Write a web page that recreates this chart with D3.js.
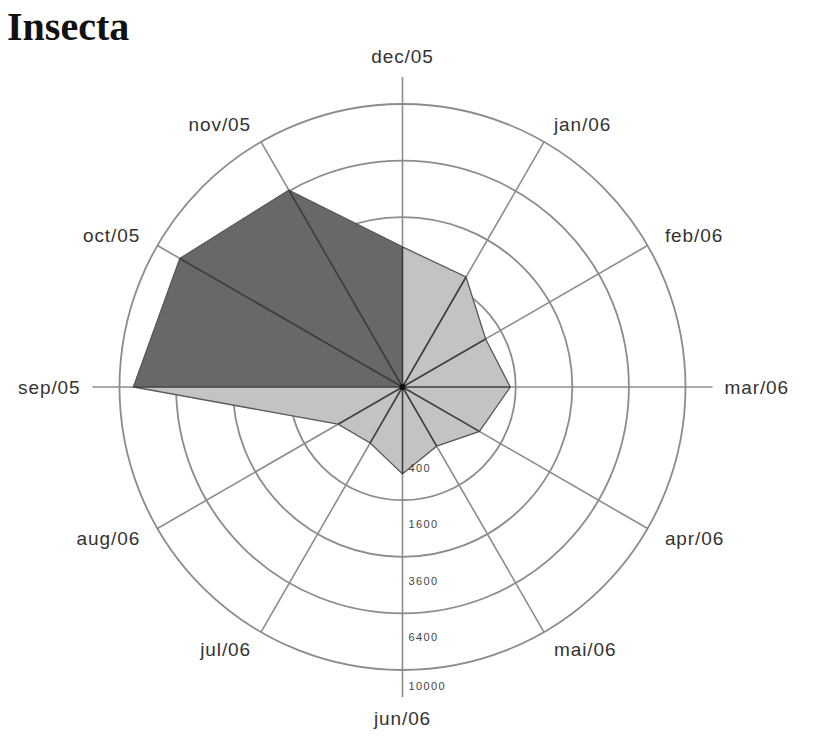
<!DOCTYPE html>
<html>
<head>
<meta charset="utf-8">
<script src="https://cdn.jsdelivr.net/npm/d3@7"></script>
<style>
  body { margin: 0; background: #fff; }
</style>
</head>
<body>
<div id="chart"></div>
<script>
// months in chronological order, sep/05 sits on the left axis
const months = ["sep/05", "oct/05", "nov/05", "dec/05", "jan/06", "feb/06",
                "mar/06", "apr/06", "mai/06", "jun/06", "jul/06", "aug/06"];
const counts = [9040, 8250, 6450, 2450, 2015, 1150, 1450, 985, 583, 945, 521, 691];
// segments (from this month to the next) drawn in the dark shade
const darkMonths = ["sep/05", "oct/05", "nov/05"];
const ringTicks = [400, 1600, 3600, 6400, 10000];

const width = 816, height = 739;
const cx = 402.5, cy = 387;
const rOuter = 283, axisLong = 310;

const svg = d3.select("#chart")
  .append("svg")
  .attr("width", width)
  .attr("height", height);

// title
svg.append("text")
  .attr("x", 7)
  .attr("y", 40)
  .style("font-family", "'Liberation Serif', 'Times New Roman', serif")
  .style("font-weight", "bold")
  .style("font-size", "40px")
  .style("fill", "#111")
  .text("Insecta");

const g = svg.append("g").attr("transform", `translate(${cx},${cy})`);

// radius is square-root scaled so the rings come out evenly spaced
const r = d3.scaleSqrt().domain([0, 10000]).range([0, rOuter]);

// angle per month, 0 = up, clockwise; sep/05 starts at the left
const step = 2 * Math.PI / months.length;
const ang = m => -Math.PI / 2 + months.indexOf(m) * step;

const px = (a, rad) => rad * Math.sin(a);
const py = (a, rad) => -rad * Math.cos(a);

// rings
g.selectAll(".ring")
  .data(ringTicks)
  .enter()
  .append("circle")
  .attr("class", "ring")
  .attr("r", d => r(d))
  .attr("fill", "none")
  .attr("stroke", "#8c8c8c")
  .attr("stroke-width", 1.8);

// axis lines; the four main ones run further out
const isCardinal = m => months.indexOf(m) % 3 === 0;
g.selectAll(".axis")
  .data(months)
  .enter()
  .append("line")
  .attr("class", "axis")
  .attr("x1", 0).attr("y1", 0)
  .attr("x2", d => px(ang(d), isCardinal(d) ? axisLong : rOuter))
  .attr("y2", d => py(ang(d), isCardinal(d) ? axisLong : rOuter))
  .attr("stroke", "#8c8c8c")
  .attr("stroke-width", 1.6);

// data polygon, drawn as one wedge per month so each can take its own shade
const segs = months.map((m, i) => {
  const j = (i + 1) % months.length;
  return { from: m, to: months[j], v0: counts[i], v1: counts[j] };
});

g.selectAll(".seg")
  .data(segs)
  .enter()
  .append("path")
  .attr("class", "seg")
  .attr("d", d => {
    const a0 = ang(d.from), a1 = ang(d.to);
    return `M0,0L${px(a0, r(d.v0))},${py(a0, r(d.v0))}L${px(a1, r(d.v1))},${py(a1, r(d.v1))}Z`;
  })
  .attr("fill", d => darkMonths.includes(d.from) ? "#686868" : "#c3c3c3")
  .attr("stroke", d => darkMonths.includes(d.from) ? "#686868" : "#c3c3c3")
  .attr("stroke-width", 0.8);

// outline of the polygon
const outline = d3.lineRadial()
  .angle((d, i) => ang(months[i]))
  .radius(d => r(d))
  .curve(d3.curveLinearClosed);

g.append("path")
  .datum(counts)
  .attr("d", outline)
  .attr("fill", "none")
  .attr("stroke", "#5a5a5a")
  .attr("stroke-width", 1.3);

// spokes from the centre to each point
g.selectAll(".spoke")
  .data(months)
  .enter()
  .append("line")
  .attr("class", "spoke")
  .attr("x1", 0).attr("y1", 0)
  .attr("x2", (d, i) => px(ang(d), r(counts[i])))
  .attr("y2", (d, i) => py(ang(d), r(counts[i])))
  .attr("stroke", "#3c3c3c")
  .attr("stroke-width", 1.6);

g.append("circle")
  .attr("r", 3)
  .attr("fill", "#111");

// month labels
g.selectAll(".mlabel")
  .data(months)
  .enter()
  .append("text")
  .attr("class", "mlabel")
  .each(function(d) {
    const a = ang(d);
    const s = Math.sin(a), c = Math.cos(a);
    const rad = isCardinal(d) ? axisLong + 12 : rOuter + 20;
    let x = px(a, rad), y = py(a, rad);
    let anchor = "middle";
    if (Math.abs(s) > 0.01) anchor = s > 0 ? "start" : "end";
    else y -= c * 9;
    d3.select(this)
      .attr("x", x)
      .attr("y", y)
      .attr("text-anchor", anchor)
      .attr("dominant-baseline", "central");
  })
  .style("font-family", "'Liberation Sans', Arial, sans-serif")
  .style("font-size", "19px")
  .style("letter-spacing", "0.9px")
  .style("fill", "#333")
  .text(d => d);

// ring values along the lower axis
g.selectAll(".tlabel")
  .data(ringTicks)
  .enter()
  .append("text")
  .attr("class", "tlabel")
  .attr("x", 6)
  .attr("y", d => r(d) + (d === 10000 ? 16 : 24))
  .attr("dominant-baseline", "central")
  .style("font-family", "'Liberation Sans', Arial, sans-serif")
  .style("font-size", "11px")
  .style("letter-spacing", "1.4px")
  .style("fill", "#444")
  .text(d => d);
</script>
</body>
</html>
